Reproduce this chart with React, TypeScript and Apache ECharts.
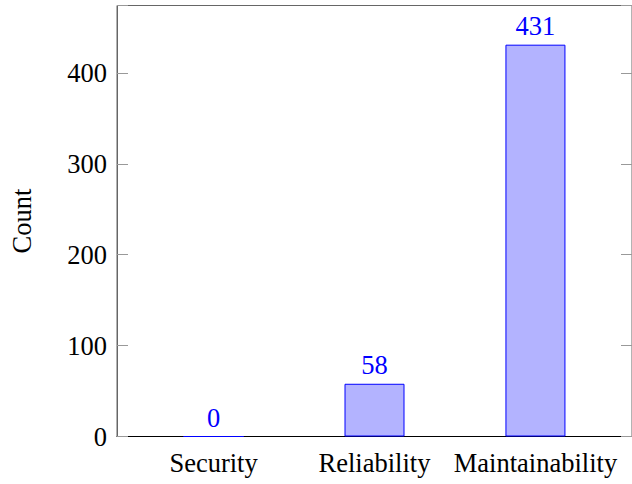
import React, { useEffect, useRef } from "react";
import * as echarts from "echarts";

const categories = ["Security", "Reliability", "Maintainability"];
const counts = [0, 58, 431];
const yTicks = [0, 100, 200, 300, 400];

const FONT = "'Liberation Serif', 'DejaVu Serif', serif";
const FS = 26.5;

export default function App() {
  const ref = useRef<HTMLDivElement>(null);
  useEffect(() => {
    if (!ref.current) return;
    const chart = echarts.init(ref.current, null, { renderer: "svg" });
    const data = counts.map((v, i) => [i, v]);
    chart.setOption({
      animation: false,
      grid: {
        left: 117,
        top: 5.5,
        width: 518,
        height: 431,
        show: true,
        borderColor: "#666",
        borderWidth: 1,
        backgroundColor: "transparent",
      },
      xAxis: {
        type: "value",
        min: -0.6,
        max: 2.6,
        splitLine: { show: false },
        axisLine: { show: true, onZero: false, lineStyle: { color: "#000", width: 1 } },
        axisTick: { show: false },
        axisLabel: {
          customValues: [0, 1, 2],
          formatter: (v: number) => categories[Math.round(v)] ?? "",
          fontFamily: FONT,
          fontSize: FS,
          color: "#000",
          margin: 13,
        },
      },
      yAxis: [
        {
          type: "value",
          min: 0,
          max: 474.1,
          interval: 100,
          position: "left",
          name: "Count",
          nameLocation: "middle",
          nameGap: 82,
          nameRotate: 90,
          nameTextStyle: { fontFamily: FONT, fontSize: FS, color: "#000" },
          splitLine: { show: false },
          axisLine: { show: true, onZero: false, lineStyle: { color: "#666", width: 1 } },
          axisTick: { show: true, inside: true, length: 11, lineStyle: { color: "#999" } },
          axisLabel: {
            customValues: yTicks,
            fontFamily: FONT,
            fontSize: FS,
            color: "#000",
            margin: 10,
          },
        },
        {
          type: "value",
          min: 0,
          max: 474.1,
          interval: 100,
          position: "right",
          splitLine: { show: false },
          axisLine: { show: false, onZero: false },
          axisTick: { show: true, inside: true, length: 11, lineStyle: { color: "#999" } },
          axisLabel: { show: false },
        },
      ],
      series: [
        {
          type: "bar",
          data,
          barWidth: 60,
          itemStyle: { color: "#b3b3ff", borderColor: "#0000ff", borderWidth: 1 },
          label: {
            show: true,
            position: "top",
            distance: 5,
            fontFamily: FONT,
            fontSize: FS,
            color: "#0000ff",
          },
          z: 5,
        },
      ],
    });
    return () => chart.dispose();
  }, []);
  return (
    <div
      ref={ref}
      style={{ position: "fixed", left: 0, top: 0, width: 632, height: 484, background: "#fff" }}
    />
  );
}
